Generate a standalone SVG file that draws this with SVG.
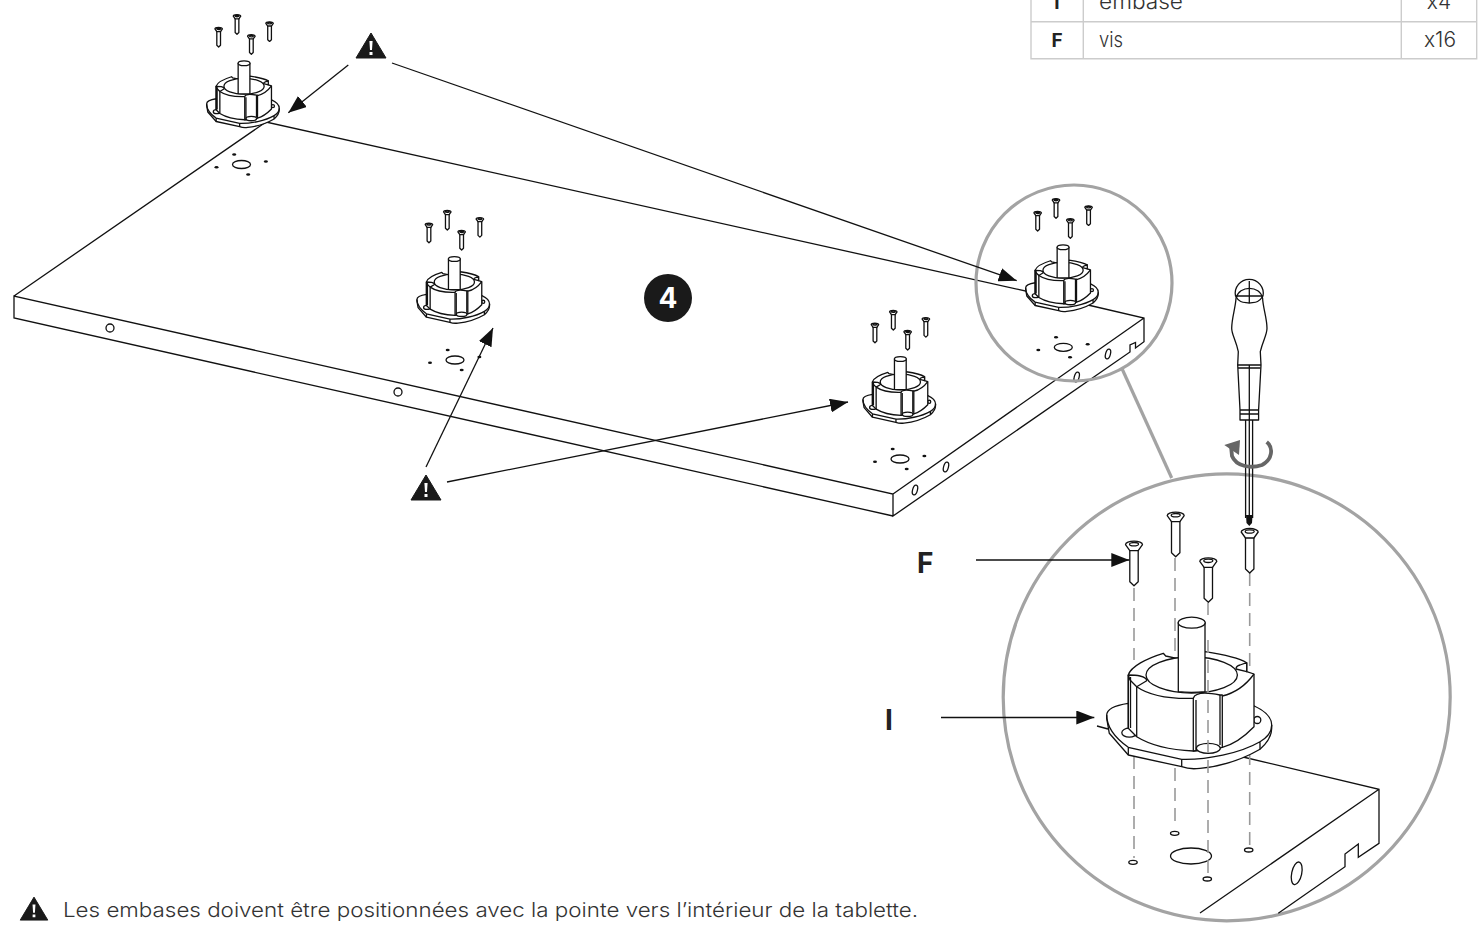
<svg xmlns="http://www.w3.org/2000/svg" width="1479" height="944" viewBox="0 0 1479 944">
<style>
text{font-family:Inter,"Liberation Sans",sans-serif;fill:#333}
.r{font-weight:300;font-size:21px}
.b{font-weight:700;fill:#222}
.w{fill:#fff;stroke:#111;stroke-width:1.3;stroke-linejoin:round;vector-effect:non-scaling-stroke}
.s{fill:none;stroke:#111;stroke-width:1.3;vector-effect:non-scaling-stroke}
.d{fill:none;stroke:#999;stroke-width:1.6;stroke-dasharray:13 7}
.g{fill:none;stroke:#a3a3a3;stroke-width:3.2}
.c{stroke:#111;stroke-width:1.3;fill:none}
.t{fill:none;stroke:#ccc;stroke-width:1.4}
</style>
<defs>
<marker id="ah" markerWidth="19" markerHeight="14" refX="18" refY="7" orient="auto" markerUnits="userSpaceOnUse"><path d="M0,0L18,7L0,14Z" fill="#111"/></marker>
<g id="em">
<path class="w" d="M1106.7,718.3L1109.3,733.3L1128.3,755L1181.7,766.7C1188,769 1195,769 1200,768.3C1225,766 1245,758 1260,749.3C1266,744 1271.7,737 1271.7,728.3V725C1271.7,716 1263,710 1254.3,706L1128.3,703.3C1117,705 1106.7,708 1106.7,715Z"/>
<path class="s" d="M1106.7,715C1106.7,725 1113.3,736.7 1128.3,747.3L1181.7,759.3C1206.7,760 1240,753.3 1260,741.7C1268,737 1271.7,731 1271.7,725M1128.3,747.3V755M1181.7,759.3V766.7M1260,741.7V749.3"/>
<ellipse class="w" cx="1129.3" cy="732.7" rx="7.5" ry="4.5"/>
<ellipse class="w" cx="1257.3" cy="720" rx="3.5" ry="3.5"/>
<path class="w" d="M1128.3,675C1130.7,666.7 1146.7,658.3 1163.3,653.3L1165.7,656L1176.7,658.3L1205,651.7C1220,654 1236.7,656.7 1246.7,662.7V671.7L1254,674V726.7C1245,736 1235,744 1222.3,747.3L1193.3,751C1172,750 1150,745 1136.7,736.7L1128.3,728.3Z"/>
<ellipse class="w" cx="1191.7" cy="675" rx="45.7" ry="18"/>
<path class="w" d="M1128.3,675C1133,675 1136,675 1140,676C1144,677 1146.7,679 1146.7,680.7L1136.7,686.7L1130,680Z"/>
<path class="w" d="M1246.7,671.7L1236,669C1236,667 1238,665.5 1240,665L1246.7,662.7Z"/>
<path class="s" d="M1136.7,686.7C1150,696 1170,699 1193.3,698.3L1222.3,696C1235,693 1246,685 1254,674"/>
<path class="s" d="M1136.7,686.7V736.7M1128.3,675V728.3M1130.5,677V728"/>
<path class="w" d="M1193.3,751V698.3C1195,693 1205,692 1220,695H1222.3V747.3L1193.3,751Z"/>
<path class="s" d="M1196,700V750M1220,695V745"/>
<ellipse class="w" cx="1208.3" cy="748.3" rx="12" ry="5"/>
<path class="w" d="M1178.3,691.7V622.7H1205V691.7C1196,692.5 1187,692.5 1178.3,691.7Z"/>
<ellipse class="w" cx="1191.7" cy="622.7" rx="13.5" ry="5.5"/>
</g>
<g id="sc">
<path class="w" d="M-4.2,3V37L0,41L4.2,37V3Z"/>
<path class="w" d="M-8.5,0A8.5,3.5 0 1 1 8.5,0L4.2,6H-4.2Z"/>
<ellipse class="s" cx="0" cy="-.5" rx="4.5" ry="1.7"/>
</g>
<g id="fs">
<use href="#sc" transform="translate(1134,544.7)"/>
<use href="#sc" transform="translate(1175.7,515.7)"/>
<use href="#sc" transform="translate(1208.3,561.3)"/>
<use href="#sc" transform="translate(1249.7,532)"/>
</g>
<g id="bh">
<ellipse class="c" cx="0" cy="0" rx="9" ry="4"/>
<g fill="#111"><ellipse cx="-7.3" cy="-10" rx="2" ry="1.2"/><ellipse cx="24.4" cy="-3" rx="2" ry="1.2"/><ellipse cx="-25" cy="2.7" rx="2" ry="1.2"/><ellipse cx="6.7" cy="10" rx="2" ry="1.2"/></g>
</g>
<g id="warn"><path d="M0,-14L15,11H-15Z" fill="#1a1a1a" stroke="#1a1a1a" stroke-linejoin="round"/><path d="M-1.6,-6H1.6L1,3H-1ZM-1.5,5H1.5V8H-1.5Z" fill="#fff"/></g>
</defs>
<rect width="1479" height="944" fill="#fff"/>
<g id="parts-table">
<path class="t" d="M1031,-5V58.7H1476.7V-5M1031,21.7H1476.7M1083.3,-5V58.7M1401.3,-5V58.7"/>
<text class="b" x="1057" y="9" font-size="19" text-anchor="middle">I</text>
<text class="r" x="1099" y="9" textLength="84" lengthAdjust="spacingAndGlyphs">embase</text>
<text class="r" x="1439" y="9" text-anchor="middle">x4</text>
<text class="b" x="1057" y="47" font-size="19" text-anchor="middle">F</text>
<text class="r" x="1099" y="47" textLength="24" lengthAdjust="spacingAndGlyphs">vis</text>
<text class="r" x="1440" y="47" text-anchor="middle">x16</text>
</g>
<g id="tablette">
<path class="c" d="M14,296L266,122L1030,292M1088,305L1144,318V341.7L1135.5,348V342.5L1130,345V352L893,516V494L14,296V318L893,516M893,494L1144,318"/>
<circle class="c" cx="110" cy="328" r="4"/>
<circle class="c" cx="398" cy="392" r="4"/>
<ellipse class="c" cx="915" cy="490" rx="2.4" ry="5" transform="rotate(15 915 490)"/>
<ellipse class="c" cx="946" cy="467" rx="2.4" ry="5" transform="rotate(15 946 467)"/>
<ellipse class="c" cx="1076.7" cy="377" rx="2.4" ry="5" transform="rotate(15 1076.7 377)"/>
<ellipse class="c" cx="1108" cy="354" rx="2.4" ry="5" transform="rotate(15 1108 354)"/>
<use href="#bh" transform="translate(241.5,164.5)"/>
<use href="#bh" transform="translate(455,360)"/>
<use href="#bh" transform="translate(900,459)"/>
<use href="#bh" transform="translate(1063.3,347.3)"/>
</g>
<g id="embase-1"><use href="#em" transform="translate(-280.3,-210.7) scale(.44)"/><use href="#fs" transform="translate(-280.3,-210.7) scale(.44)"/></g>
<g id="embase-2"><use href="#em" transform="translate(-70,-15) scale(.44)"/><use href="#fs" transform="translate(-70,-15) scale(.44)"/></g>
<g id="embase-3"><use href="#em" transform="translate(376,85) scale(.44)"/><use href="#fs" transform="translate(376,85) scale(.44)"/></g>
<g id="embase-4"><use href="#em" transform="translate(538.7,-26.7) scale(.44)"/><use href="#fs" transform="translate(538.7,-26.7) scale(.44)"/></g>
<g id="detail-circles">
<circle class="g" cx="1074" cy="283" r="98"/>
<circle class="g" cx="1226.7" cy="697.3" r="223.5"/>
</g>
<g id="detail-tablette">
<path class="c" d="M1243,757L1379,789.3V843.3L1358.3,857.3V844L1345,854V866.7L1278.3,913.3M1379,789.3L1200,913M1097,726L1108,729"/>
<ellipse class="c" cx="1296.7" cy="873.3" rx="5" ry="11.5" transform="rotate(12 1296.7 873.3)"/>
<ellipse class="c" cx="1191" cy="856" rx="20.5" ry="8"/>
<g class="c" fill="none"><ellipse cx="1133" cy="862.3" rx="4.2" ry="2"/><ellipse cx="1174.7" cy="833.3" rx="4.2" ry="2"/><ellipse cx="1207.3" cy="879" rx="4.2" ry="2"/><ellipse cx="1248.7" cy="850" rx="4.2" ry="2"/></g>
</g>
<g id="dashes" class="d">
<path d="M1134,588V660M1134,756V858"/>
<path d="M1175,558V654M1175,768V828"/>
<path d="M1249.7,573V670M1249.7,752V846"/>
</g>
<g id="embase-detail"><use href="#em"/><use href="#fs"/></g>
<g id="dashes-front" class="d"><path d="M1208,603V615M1208,640V875"/></g>
<g id="screwdriver">
<path class="w" d="M1249.3,420H1258.6V410L1261,365L1260.3,351.7C1263,340 1267,335 1267,328.3C1267,318 1263,308 1262.6,298.3C1260,285 1239,285 1236,298.3C1235.5,308 1231.7,318 1231.7,328.3C1231.7,335 1236,340 1238.3,351.7L1237.7,365L1240,410V420Z"/>
<path class="c" d="M1235.5,296A14,14 0 1 1 1263,296C1258,304 1254,302 1249.3,303C1244.5,302 1240,304 1235.5,296ZM1249.3,281V303M1236,296H1263M1237.7,365H1261M1238,368H1260.5M1249.3,365V420M1240,410H1258.6M1240,414H1258.6"/>
<path class="c" d="M1245.6,420V518M1252.6,420V518M1249.3,420V518"/>
<path d="M1246,515H1252.5L1252,523L1249.3,526L1246.5,523Z" fill="#111"/>
<path d="M1266.7,442C1274,448 1272,460 1262,465C1250,469 1236,466 1232,456L1231,446" fill="none" stroke="#666" stroke-width="3.8"/>
<path d="M1224.3,445L1240,440L1239,455Z" fill="#666"/>
</g>
<g id="connectors">
<path class="c" marker-end="url(#ah)" d="M348.3,65L288.3,112.7"/>
<path class="c" marker-end="url(#ah)" d="M392,63L1016.7,280.7"/>
<path class="c" marker-end="url(#ah)" d="M426,467L493,328"/>
<path class="c" marker-end="url(#ah)" d="M447,482L848,402"/>
<path class="c" marker-end="url(#ah)" d="M976,560H1129.3"/>
<path class="c" marker-end="url(#ah)" d="M941,717.5H1094.3"/>
<path class="g" d="M1121.7,368L1171.7,478"/>
</g>
<g id="warn-1"><use href="#warn" transform="translate(371,47)"/></g>
<g id="warn-2"><use href="#warn" transform="translate(426,489)"/></g>
<g id="step"><circle cx="668" cy="298" r="24" fill="#1a1a1a"/><text x="668" y="308" font-size="28" font-weight="700" text-anchor="middle" style="fill:#fff">4</text></g>
<g id="label-F"><text class="b" x="917" y="573" font-size="28">F</text></g>
<g id="label-I"><text class="b" x="885" y="730" font-size="28">I</text></g>
<g id="note"><use href="#warn" transform="translate(34,910) scale(.92)"/><text x="63" y="917" font-size="20" font-weight="300" textLength="855" lengthAdjust="spacingAndGlyphs">Les embases doivent être positionnées avec la pointe vers l’intérieur de la tablette.</text></g>
</svg>
